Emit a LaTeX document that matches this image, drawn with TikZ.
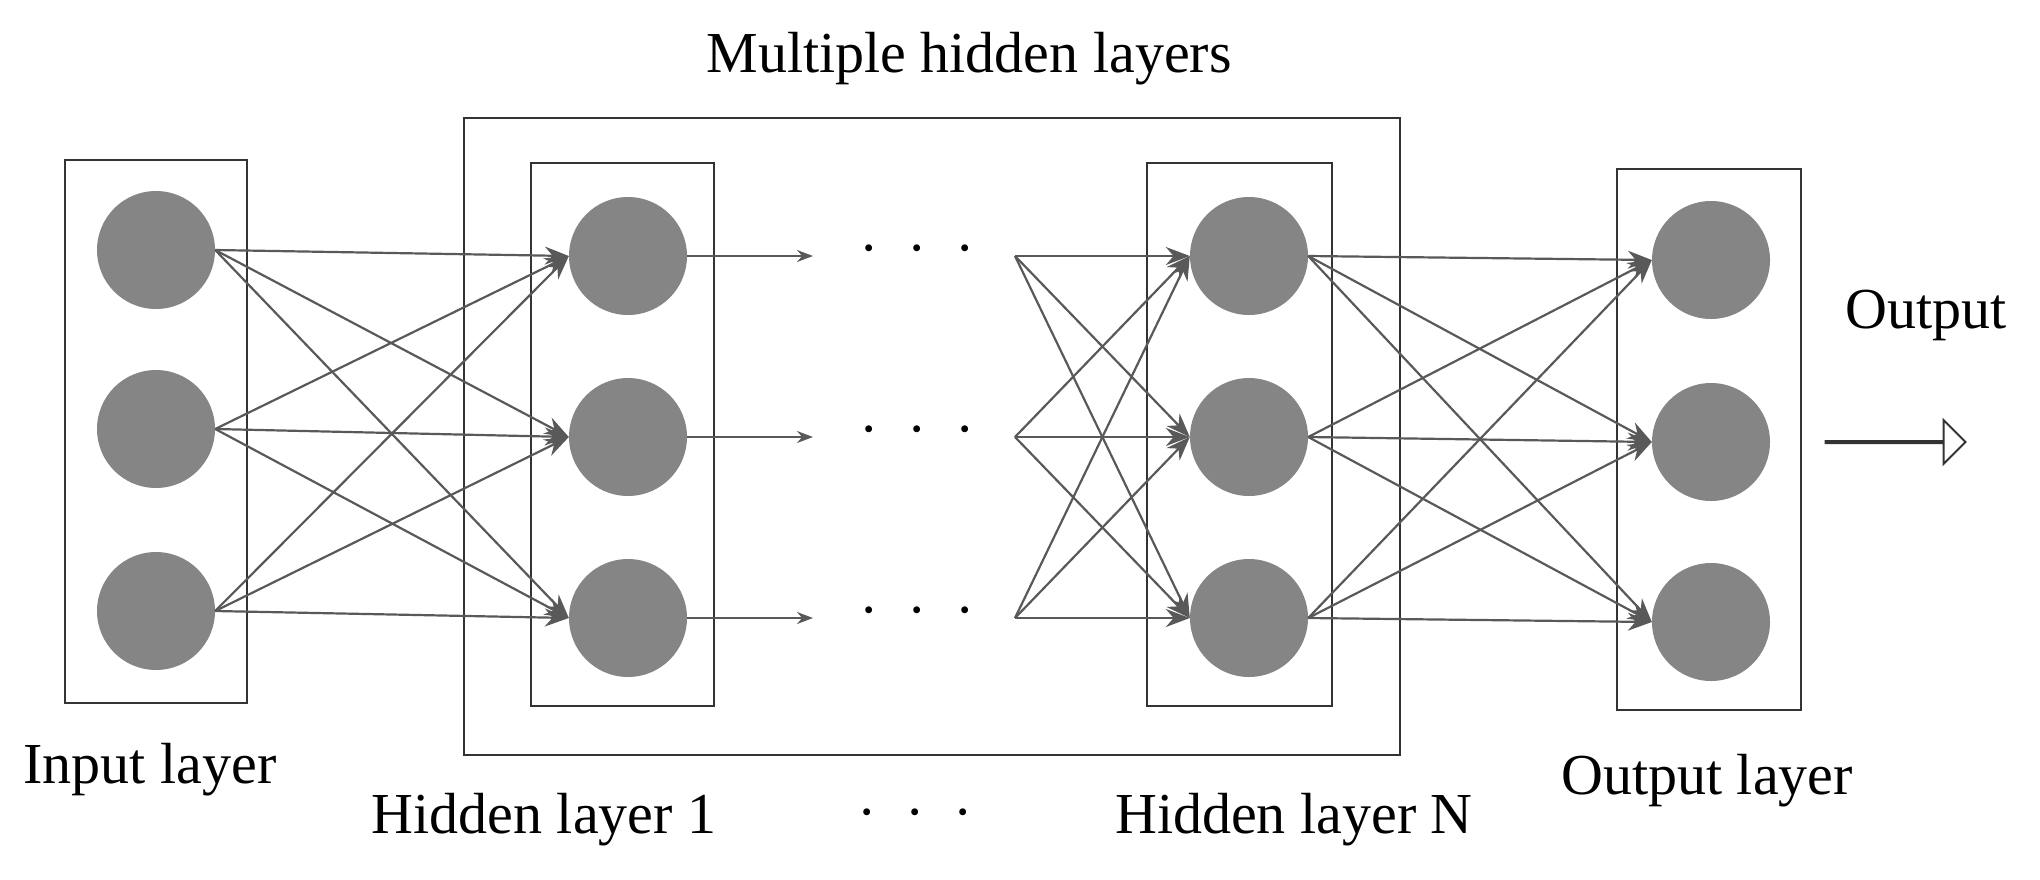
\documentclass[tikz,border=0pt]{standalone}
\usepackage{fontspec}
\setmainfont{Liberation Serif}
\usetikzlibrary{arrows.meta,shapes.arrows}
\begin{document}
\begin{tikzpicture}[x=1pt,y=1pt,
  neuron/.style={circle,fill=black!48,draw=none,minimum size=118pt,inner sep=0pt},
  layer/.style={draw=black!80,line width=2.2pt},
  conn/.style={draw=black!65,line width=2.2pt,-{Stealth[length=24pt,width=18pt]}},
  lab/.style={font=\fontsize{58}{66}\selectfont,inner sep=0pt}]
\useasboundingbox (0,0) rectangle (2040,-879);
\draw[layer] (464,-118) rectangle (1400,-755);
\draw[layer] (65,-160) rectangle (247,-703);
\draw[layer] (531,-163) rectangle (714,-706);
\draw[layer] (1147,-163) rectangle (1332,-706);
\draw[layer] (1617,-169) rectangle (1801,-710);
\foreach \i/\y in {1/250,2/429,3/611} \node[neuron] (i\i) at (156,-\y) {};
\foreach \i/\y in {1/256,2/437,3/618} {
  \node[neuron] (h\i) at (628,-\y) {};
  \node[neuron] (n\i) at (1249,-\y) {};
  \coordinate (a\i) at (813,-\y);
  \coordinate (f\i) at (1015,-\y);
  \node[lab] (d\i) at (917,-\y) {·~~·~~·};
}
\foreach \i/\y in {1/260,2/442,3/622} \node[neuron] (o\i) at (1711,-\y) {};
\foreach \s in {1,2,3} \foreach \t in {1,2,3} {
  \draw[conn] (i\s.east) -- (h\t.west);
  \draw[conn] (f\s) -- (n\t.west);
  \draw[conn] (n\s.east) -- (o\t.west);
}
\foreach \i in {1,2,3} \draw[conn,-{Stealth[length=16pt,width=12pt]}] (h\i.east) -- (a\i);
\node[draw=black!80,line width=2pt,single arrow,minimum height=140pt,minimum width=84pt,single arrow head extend=21pt,single arrow head indent=0pt,single arrow tip angle=90,inner sep=0pt,minimum width=42pt] (oa) at (1895,-442) {};
\node[lab] (t0) at (969,-59) {Multiple hidden layers};
\node[lab] (t1) at (150,-770) {Input layer};
\node[lab] (t2) at (544,-820) {Hidden layer 1};
\node[lab] (t3) at (915,-820) {·~~·~~·};
\node[lab] (t4) at (1294,-820) {Hidden layer N};
\node[lab] (t5) at (1707,-781) {Output layer};
\node[lab] (t6) at (1926,-315) {Output};
\end{tikzpicture}
\end{document}
